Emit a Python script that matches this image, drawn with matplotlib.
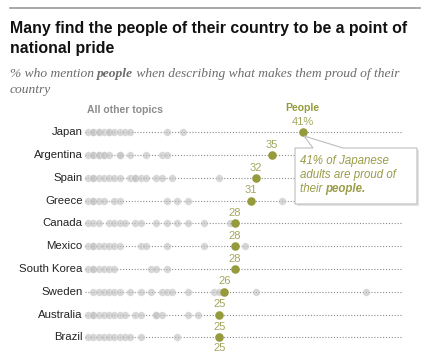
import matplotlib
matplotlib.use('Agg')
import matplotlib.pyplot as plt
from matplotlib.patches import Polygon, Rectangle
from matplotlib.lines import Line2D

# dados
paises = ['Japan', 'Argentina', 'Spain', 'Greece', 'Canada', 'Mexico',
          'South Korea', 'Sweden', 'Australia', 'Brazil']
pessoas = [41, 35, 32, 31, 28, 28, 28, 26, 25, 25]
rotulos = ['41%', '35', '32', '31', '28', '28', '28', '26', '25', '25']

outros_japan = [0, 1, 1, 2, 2, 3, 4, 4, 5, 6, 7, 8, 15, 18]
outros_argentina = [0, 1, 1, 2, 2, 3, 3, 4, 6, 6, 8, 11, 14, 15]
outros_spain = [0, 1, 1, 2, 3, 4, 5, 6, 8, 9, 9, 10, 11, 13, 14, 16, 25]
outros_greece = [0, 1, 1, 2, 3, 5, 6, 15, 17, 19, 37]
outros_canada = [0, 1, 2, 4, 5, 6, 7, 9, 10, 13, 15, 17, 19, 22, 27]
outros_mexico = [0, 1, 1, 2, 3, 4, 5, 6, 10, 11, 15, 22, 30]
outros_korea = [0, 1, 1, 2, 3, 4, 5, 12, 13, 15]
outros_sweden = [1, 2, 3, 4, 5, 6, 8, 10, 12, 14, 15, 16, 19, 24, 25, 32, 53]
outros_australia = [0, 1, 1, 2, 3, 4, 5, 6, 7, 9, 10, 13, 13, 14, 19, 21]
outros_brazil = [0, 1, 2, 3, 4, 5, 6, 7, 8, 10, 17]

outros = [outros_japan, outros_argentina, outros_spain, outros_greece,
          outros_canada, outros_mexico, outros_korea, outros_sweden,
          outros_australia, outros_brazil]

W, H = 430, 354
OLIVA = '#959a3b'
OLIVA_TXT = '#a3a65e'
CINZA = '#c2c2c2'

fig = plt.figure(figsize=(W / 100, H / 100), dpi=100)
plt.rcParams['font.family'] = ['Liberation Sans', 'DejaVu Sans']


def fx(px):
    return px / W


def fy(py):
    return 1 - py / H


# linha do topo
fig.add_artist(Line2D([fx(10), fx(420)], [fy(8), fy(8)], color='#9a9a9a', lw=1.2))

# titulo
fig.text(fx(10), fy(28), 'Many find the people of their country to be a point of',
         fontsize=11.4, fontweight='bold', va='center', color='#111')
fig.text(fx(10), fy(48), 'national pride',
         fontsize=11.4, fontweight='bold', va='center', color='#111')

renderer = fig.canvas.get_renderer()


def texto_partes(x, y, partes, **kw):
    # desenha pedaços de texto lado a lado (normal / negrito)
    for txt, peso in partes:
        t = fig.text(fx(x), fy(y), txt, fontweight=peso, va='center', **kw)
        bb = t.get_window_extent(renderer=renderer)
        x += bb.width


sub = dict(fontsize=9.7, style='italic', color='#6b6b6b', family='Liberation Serif')
texto_partes(10, 74, [('% who mention ', 'normal'), ('people', 'bold'),
                      (' when describing what makes them proud of their', 'normal')], **sub)
texto_partes(10, 90, [('country', 'normal')], **sub)

# cabecalhos
fig.text(fx(125), fy(110), 'All other topics', fontsize=7.5, fontweight='bold',
         color='#8c8c8c', ha='center', va='center')
fig.text(fx(302), fy(108), 'People', fontsize=7.5, fontweight='bold',
         color=OLIVA, ha='center', va='center')

# eixo principal
ax = fig.add_axes([fx(80), 0, fx(410) - fx(80), 1 - 115 / H])
ax.set_xlim((80 - 88) / 5.25, (410 - 88) / 5.25)
ax.set_ylim(9.736, -0.769)
ax.axis('off')

for i, pais in enumerate(paises):
    ax.hlines(i, -0.5, 59.8, color='#8a8a8a', lw=0.8, linestyles=(0, (1, 1.6)), zorder=1)
    ax.scatter(outros[i], [i] * len(outros[i]), s=30, color=CINZA, alpha=0.65,
               edgecolors='white', linewidths=0.3, zorder=2)
    ax.scatter(pessoas[i], i, s=38, color=OLIVA, zorder=3, linewidths=0)
    ax.annotate(rotulos[i], (pessoas[i], i), xytext=(0, 7.5), textcoords='offset points',
                ha='center', va='center', fontsize=8, color=OLIVA_TXT)
    ax.annotate(pais, (-0.5, i), xytext=(-2, 0), textcoords='offset points',
                ha='right', va='center', fontsize=8.2, color='#222')

# rotulo extra abaixo do Brasil
ax.annotate(rotulos[-1], (pessoas[-1], 9), xytext=(0, -7.5), textcoords='offset points',
            ha='center', va='center', fontsize=8, color=OLIVA_TXT)

# caixa de anotacao
pts = [(295, 148), (313, 148), (304, 136), (343, 148), (417, 148), (417, 204), (295, 204)]
sombra = Rectangle((fx(297), fy(206)), fx(417) - fx(295), fy(148) - fy(204),
                   transform=fig.transFigure, facecolor='#e4e4e4', edgecolor='none', zorder=4)
fig.add_artist(sombra)
caixa = Polygon([(fx(a), fy(b)) for a, b in pts], closed=True, transform=fig.transFigure,
                facecolor='white', edgecolor='#bdbdbd', lw=0.8, zorder=5)
fig.add_artist(caixa)

nota = dict(fontsize=8.3, style='italic', color='#9a9c48', zorder=6)
texto_partes(300, 161, [('41% of Japanese', 'normal')], **nota)
texto_partes(300, 175, [('adults are proud of', 'normal')], **nota)
texto_partes(300, 189, [('their ', 'normal'), ('people.', 'bold')], **nota)

fig.savefig('out.png', dpi=100)
